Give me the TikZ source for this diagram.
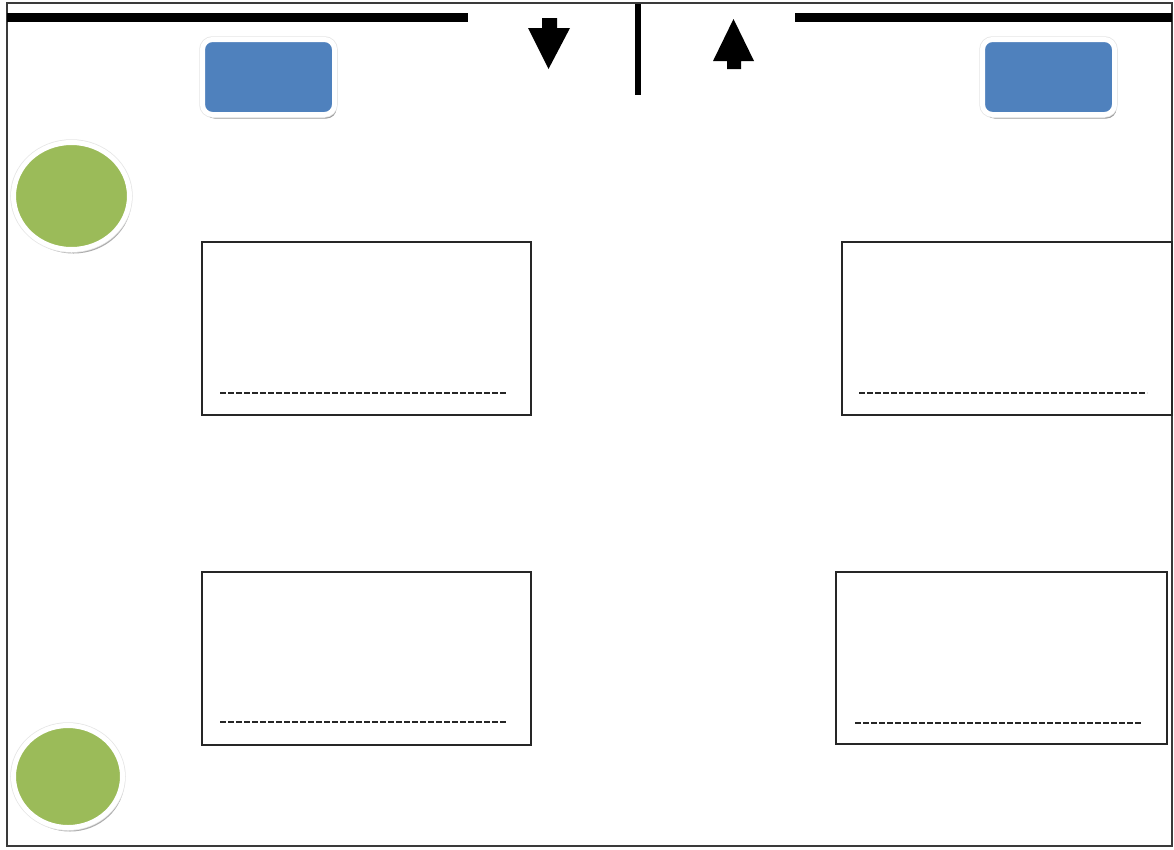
\documentclass[tikz,border=0pt]{standalone}
\usetikzlibrary{shapes.geometric,shadows}
\definecolor{boxblue}{HTML}{4F81BD}
\definecolor{leafgreen}{HTML}{9BBB59}
\definecolor{framegray}{HTML}{3A3A3A}
\tikzset{
  wall/.style={line width=9pt, black},
  seat/.style={rectangle, rounded corners=10pt, fill=boxblue, draw=white, line width=5pt, inner sep=0pt, outer sep=0pt,
    drop shadow={shadow xshift=2pt, shadow yshift=-4pt, fill=black!38, opacity=1},
    preaction={draw=black!10, line width=6.5pt}},
  ball/.style={ellipse, fill=leafgreen, draw=white, line width=5pt, inner sep=0pt, outer sep=0pt,
    drop shadow={shadow xshift=2pt, shadow yshift=-4pt, fill=black!32, opacity=1},
    preaction={draw=black!10, line width=6.5pt}},
  panel/.style={rectangle, draw=black!85, line width=1.5pt, fill=white, inner sep=0pt, outer sep=0pt},
  dashline/.style={black!85, line width=2.2pt, dash pattern=on 6pt off 2pt},
}
\begin{document}
\begin{tikzpicture}[x=1pt,y=-1pt]
\useasboundingbox (0,0) rectangle (1174,849);
\fill[white] (0,0) rectangle (1174,849);
% outer frame
\draw[framegray, line width=1.5pt] (7,3) rectangle (1172,846);
% top walls
\draw[wall] (7,17.5) -- (468,17.5);
\draw[wall] (795,17.5) -- (1172,17.5);
\draw[line width=6pt] (638,4) -- (638,95);
% arrows
\fill (542,18) -- (557,18) -- (557,28) -- (570,28) -- (548.5,69) -- (528,28) -- (542,28) -- cycle;
\fill (733.5,19) -- (754,61) -- (741,61) -- (741,69) -- (727,69) -- (727,61) -- (713,61) -- cycle;
% blue boxes
\node[seat, minimum width=132pt, minimum height=75pt] (b1) at (268.5,77) {};
\node[seat, minimum width=132pt, minimum height=75pt] (b2) at (1048.5,77) {};
% green circles
\node[ball, minimum width=116pt, minimum height=107pt] (g1) at (71.5,196) {};
\node[ball, minimum width=109pt, minimum height=102pt] (g2) at (68,776.5) {};
% panels
\node[panel, minimum width=329pt, minimum height=173pt] (tl) at (366.5,328.5) {};
\node[panel, minimum width=330pt, minimum height=173pt] (tr) at (1007,328.5) {};
\node[panel, minimum width=329pt, minimum height=173pt] (bl) at (366.5,658.5) {};
\node[panel, minimum width=331pt, minimum height=172pt] (br) at (1001.5,658) {};
% dashed lines
\draw[dashline] ([shift={(18,-22)}]tl.south west) -- ([shift={(-24,-22)}]tl.south east);
\draw[dashline] ([shift={(17,-22)}]tr.south west) -- ([shift={(-25,-22)}]tr.south east);
\draw[dashline] ([shift={(18,-23)}]bl.south west) -- ([shift={(-24,-23)}]bl.south east);
\draw[dashline] ([shift={(19,-21)}]br.south west) -- ([shift={(-25,-21)}]br.south east);
\end{tikzpicture}
\end{document}
